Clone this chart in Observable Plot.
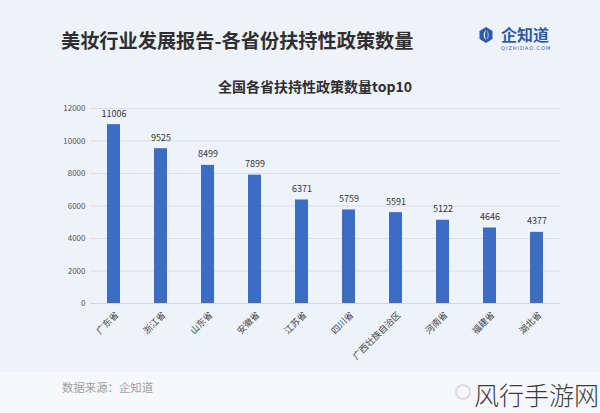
<!DOCTYPE html>
<html>
<head>
<meta charset="utf-8">
<script src="https://cdn.jsdelivr.net/npm/d3@7"></script>
<script src="https://cdn.jsdelivr.net/npm/@observablehq/plot@0.6"></script>
<style>
  html, body { margin: 0; padding: 0; }
  body { width: 600px; height: 413px; position: relative; overflow: hidden; background: #eef2f9;
         font-family: "Noto Sans CJK SC", "Noto Sans", sans-serif; }
  .abs { position: absolute; white-space: nowrap; }
  #title { left: 61px; top: 28px; font-size: 19.2px; font-weight: 700; color: #2f2f2f; line-height: 24px; }
  #logo { left: 478px; top: 26px; }
  #logoText { left: 501px; top: 26px; font-size: 16px; font-weight: 700; color: #2e5aa7; line-height: 17px; }
  #logoSub { left: 501px; top: 45px; font-size: 5px; line-height: 6px; color: #2e5aa7; letter-spacing: 1px; font-family: "DejaVu Sans", sans-serif; }
  #subtitle { left: 0; width: 630px; text-align: center; top: 77px; font-size: 14px; font-weight: 700; color: #2f2f2f; line-height: 18px; }
  #plot { left: 0; top: 100px; }
  #footer { left: 0; top: 372px; width: 600px; height: 41px; background: #f5f7fb; }
  #source { left: 62px; top: 379px; font-size: 11.4px; color: #a0a0a0; line-height: 16px; }
  #wm { left: 474px; top: 379px; font-size: 25px; color: #3a3a3a; font-weight: 300; line-height: 30px;
        text-shadow: 0 0 2px #fff, 0 0 2px #fff; }
  #wmIcon { left: 455px; top: 384px; width: 16px; height: 16px; border-radius: 50%; border: 2px solid #dcdcdc; box-sizing: border-box; }
</style>
</head>
<body>
<div id="footer" class="abs"></div>
<div id="title" class="abs">美妆行业发展报告-各省份扶持性政策数量</div>
<svg id="logo" class="abs" width="16" height="18" viewBox="0 0 16 18">
  <path d="M8 1 L14.5 5 L14.5 13 L8 17 L1.5 13 L1.5 5 Z" fill="#2e5aa7"/>
  <path d="M8 4 C5 6 5 12 8 14 C6.5 11 6.5 7 8 4 Z" fill="#fff"/>
  <path d="M8.5 4 C11.5 6 11.5 12 8.5 14 C10 11 10 7 8.5 4 Z" fill="#9fb7e0"/>
</svg>
<div id="logoText" class="abs">企知道</div>
<div id="logoSub" class="abs">QIZHIDAO.COM</div>
<div id="subtitle" class="abs">全国各省扶持性政策数量top10</div>
<div id="plot" class="abs"></div>
<div id="source" class="abs">数据来源：企知道</div>
<div id="wmIcon" class="abs"></div>
<div id="wm" class="abs">风行手游网</div>
<script>
const provinces = ["广东省", "浙江省", "山东省", "安徽省", "江苏省", "四川省", "广西壮族自治区", "河南省", "福建省", "湖北省"];
const counts = [11006, 9525, 8499, 7899, 6371, 5759, 5591, 5122, 4646, 4377];
const yTicks = [0, 2000, 4000, 6000, 8000, 10000, 12000];

const data = provinces.map((p, i) => ({province: p, count: counts[i]}));

const chart = Plot.plot({
  width: 600,
  height: 273,
  marginLeft: 90,
  marginRight: 40,
  marginTop: 8,
  marginBottom: 70,
  style: {background: "transparent", fontFamily: "'Noto Sans CJK SC', 'Noto Sans', sans-serif"},
  x: {domain: provinces, paddingInner: 0.713, paddingOuter: 0.35, label: null},
  y: {domain: [0, 12000], label: null},
  marks: [
    Plot.gridY(yTicks, {stroke: "#d9dfe8", strokeOpacity: 1, strokeWidth: 1}),
    Plot.ruleY([0], {stroke: "#d0d6df"}),
    Plot.axisY(yTicks, {tickSize: 0, tickPadding: 5, fontSize: 8, fill: "#555", label: null, tickFormat: d => String(d)}),
    Plot.axisX({tickSize: 0, tickRotate: -45, fontSize: 9, fill: "#444", tickPadding: 10, label: null, dx: 3}),
    Plot.barY(data, {x: "province", y: "count", fill: "#3d6cc4"}),
    Plot.text(data, {x: "province", y: "count", text: d => String(d.count), dy: -11, fontSize: 9, fill: "#333"})
  ]
});
document.getElementById("plot").appendChild(chart);
</script>
</body>
</html>
